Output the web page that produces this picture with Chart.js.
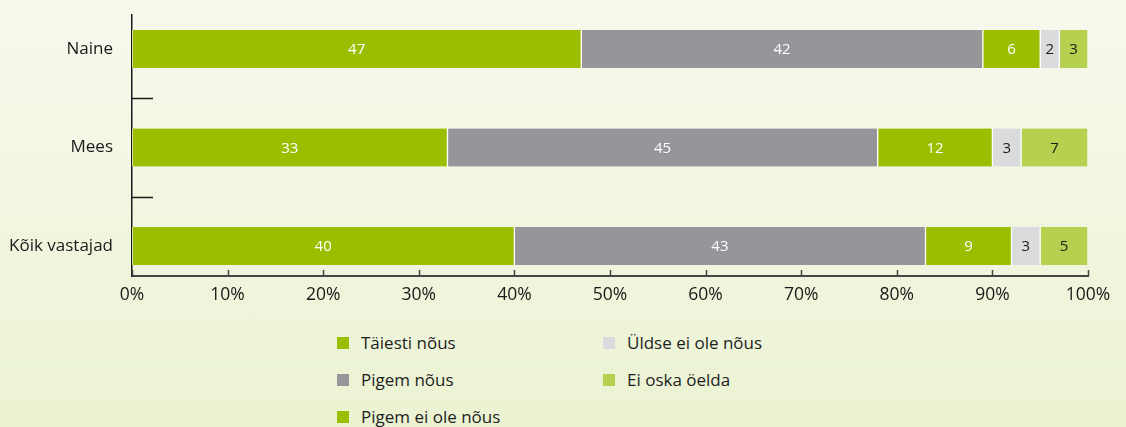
<!DOCTYPE html>
<html>
<head>
<meta charset="utf-8">
<script src="https://cdn.jsdelivr.net/npm/chart.js@4/dist/chart.umd.min.js"></script>
<style>
  html, body { margin: 0; padding: 0; }
  body {
    width: 1126px; height: 427px; overflow: hidden; position: relative;
    background: linear-gradient(to bottom, #f7f9ed 0%, #f1f6e0 50%, #ebf3d2 100%);
    font-family: "Open Sans", sans-serif;
  }
  #wrap { position: absolute; left: 0; top: 0; width: 1126px; height: 315px; }
  #legend {
    position: absolute; left: 337px; top: 324px;
    display: grid; grid-template-rows: repeat(3, 37px); grid-auto-flow: column;
    grid-template-columns: 266px 240px;
    font-size: 17px; color: #1e1e1e;
  }
  .li { display: flex; align-items: center; height: 37px; }
  .sw { width: 12px; height: 12px; margin-right: 12px; flex: none; }
</style>
</head>
<body>
<div id="wrap"><canvas id="c"></canvas></div>
<div id="legend"></div>
<script>
// ---- data ----
const categories = ["Naine", "Mees", "Kõik vastajad"];
const seriesNames = ["Täiesti nõus", "Pigem nõus", "Pigem ei ole nõus", "Üldse ei ole nõus", "Ei oska öelda"];
const taiestiNous     = [47, 33, 40];
const pigemNous       = [42, 45, 43];
const pigemEiOleNous  = [6, 12, 9];
const uldseEiOleNous  = [2, 3, 3];
const eiOskaOelda     = [3, 7, 5];
const xTickValues = [0, 10, 20, 30, 40, 50, 60, 70, 80, 90, 100];

// ---- styles ----
const colors = ["#9bbf00", "#97959a", "#9bbf00", "#d9dbdc", "#b6d14f"];
const labelColors = ["#ffffff", "#ffffff", "#ffffff", "#1a1a1a", "#1a1a1a"];
const allSeries = [taiestiNous, pigemNous, pigemEiOleNous, uldseEiOleNous, eiOskaOelda];
const FONT = "Open Sans";

const datasets = allSeries.map((vals, s) => ({
  label: seriesNames[s],
  data: vals.map((v, i) => ({ x: v, y: i })),
  backgroundColor: colors[s],
  borderColor: "rgba(255,255,255,0.85)",
  borderWidth: { left: 1, right: 1, top: 0, bottom: 0 },
  borderSkipped: false,
  barThickness: 38
}));

const valueLabels = {
  id: "valueLabels",
  afterDatasetsDraw(chart) {
    const ctx = chart.ctx;
    ctx.save();
    ctx.font = '15px "' + FONT + '", sans-serif';
    ctx.textAlign = "center";
    ctx.textBaseline = "middle";
    chart.data.datasets.forEach((ds, s) => {
      const meta = chart.getDatasetMeta(s);
      meta.data.forEach((el, i) => {
        const p = el.getCenterPoint();
        ctx.fillStyle = labelColors[s];
        ctx.fillText(String(ds.data[i].x), p.x, p.y + 1);
      });
    });
    ctx.restore();
  }
};

// tick marks drawn inward from the axes, positioned through the chart's scales
const axisTicks = {
  id: "axisTicks",
  afterDraw(chart) {
    const ctx = chart.ctx, xs = chart.scales.x, ys = chart.scales.y;
    ctx.save();
    ctx.lineWidth = 1.5;
    ctx.strokeStyle = "#444444";
    ctx.beginPath();
    xs.ticks.forEach(t => {
      const px = Math.round(xs.getPixelForValue(t.value)) + 0.5;
      ctx.moveTo(px, xs.top);
      ctx.lineTo(px, xs.top - 6);
    });
    ctx.stroke();
    ctx.strokeStyle = "#1a1a1a";
    ctx.beginPath();
    for (let i = 0; i < categories.length - 1; i++) {
      const py = Math.round((ys.getPixelForValue(i) + ys.getPixelForValue(i + 1)) / 2) + 0.5;
      ctx.moveTo(ys.right, py);
      ctx.lineTo(ys.right + 21, py);
    }
    ctx.stroke();
    ctx.restore();
  }
};

const chart = new Chart(document.getElementById("c"), {
  type: "bar",
  data: { datasets },
  plugins: [valueLabels, axisTicks],
  options: {
    indexAxis: "y",
    responsive: true,
    maintainAspectRatio: false,
    animation: false,
    layout: { padding: { top: 15, right: 38, left: 0, bottom: 0 } },
    plugins: { legend: { display: false }, tooltip: { enabled: false } },
    scales: {
      x: {
        type: "linear", stacked: true, min: 0, max: 100,
        afterBuildTicks: (sc) => { sc.ticks = xTickValues.map(v => ({ value: v })); },
        afterFit: (sc) => { sc.height = 39; sc.paddingLeft = 0; sc.paddingRight = 0; },
        border: { display: true, color: "#444444", width: 2 },
        grid: { display: false, drawTicks: false },
        ticks: {
          padding: 9, color: "#1a1a1a", maxRotation: 0, autoSkip: false,
          font: { family: FONT, size: 17.5 },
          callback: (v) => v + "%"
        }
      },
      y: {
        type: "linear", stacked: true, reverse: true, min: -0.345, max: 2.305,
        offset: false,
        afterBuildTicks: (sc) => { sc.ticks = categories.map((c, i) => ({ value: i })); },
        afterFit: (sc) => { sc.width = 132; sc.paddingTop = 0; sc.paddingBottom = 0; },
        border: { display: true, color: "#1a1a1a", width: 1.5 },
        grid: { display: false, drawTicks: false, offset: false },
        ticks: {
          padding: 19, color: "#1a1a1a", autoSkip: false,
          font: { family: FONT, size: 17 },
          callback: (v) => categories[v]
        }
      }
    }
  }
});

// HTML legend built from the chart's datasets
const leg = document.getElementById("legend");
chart.data.datasets.forEach((ds) => {
  const d = document.createElement("div"); d.className = "li";
  const sw = document.createElement("span"); sw.className = "sw"; sw.style.background = ds.backgroundColor;
  const t = document.createElement("span"); t.textContent = ds.label;
  d.appendChild(sw); d.appendChild(t); leg.appendChild(d);
});
</script>
</body>
</html>
